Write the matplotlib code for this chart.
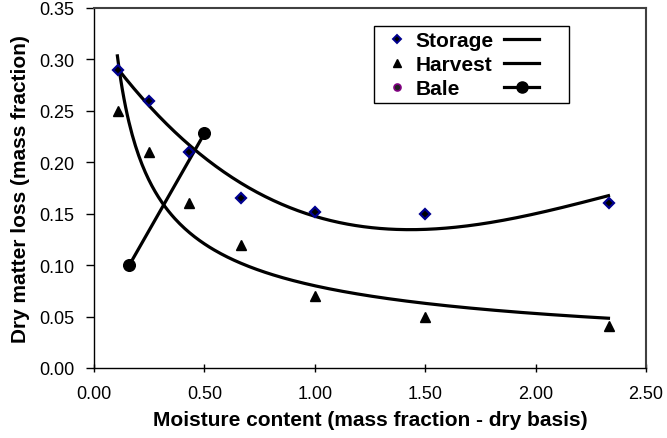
import numpy as np
import matplotlib
matplotlib.use("Agg")
import matplotlib.pyplot as plt
from matplotlib.lines import Line2D
from matplotlib.ticker import FormatStrFormatter

plt.rcParams['font.family'] = ['Liberation Sans', 'DejaVu Sans']

# moisture content (dry basis) and dry matter loss
moisture = [0.111, 0.25, 0.429, 0.667, 1.0, 1.5, 2.333]
storage_loss = [0.290, 0.260, 0.210, 0.165, 0.152, 0.150, 0.160]
harvest_loss = [0.250, 0.210, 0.160, 0.120, 0.070, 0.050, 0.041]

bale_moisture = [0.16, 0.50]
bale_loss = [0.100, 0.228]

# trend lines
storage_trend_x = [0.106, 0.249, 0.453, 0.616, 0.725, 1.0, 1.39, 1.5, 2.33]
storage_trend_y = [0.291, 0.257, 0.2097, 0.1876, 0.174, 0.1465, 0.1345, 0.135, 0.1675]
harvest_trend_x = [0.106, 0.196, 0.309, 0.453, 0.616, 1.0, 1.5, 2.33]
harvest_trend_y = [0.301, 0.213, 0.158, 0.1286, 0.1076, 0.0807, 0.0632, 0.0476]

fig = plt.figure(figsize=(6.67, 4.39), dpi=100)
ax = fig.add_axes([0.1409, 0.1595, 0.8276, 0.82])

# storage: cubic trend, harvest: power trend
c_st = np.polyfit(storage_trend_x, storage_trend_y, 3)
xs = np.linspace(min(storage_trend_x), max(storage_trend_x), 300)
ax.plot(xs, np.polyval(c_st, xs), color='black', lw=2.3, zorder=2)

b, ln_a = np.polyfit(np.log(harvest_trend_x), np.log(harvest_trend_y), 1)
xh = np.linspace(min(harvest_trend_x), max(harvest_trend_x), 300)
ax.plot(xh, np.exp(ln_a) * xh ** b, color='black', lw=2.3, zorder=2)

ax.plot(bale_moisture, bale_loss, color='black', lw=2.3, marker='o',
        markersize=8.4, zorder=3)

ax.plot(moisture, storage_loss, linestyle='none', marker='D', markersize=5,
        mfc='black', mec='#000090', mew=1.6, zorder=4)
ax.plot(moisture, harvest_loss, linestyle='none', marker='^', markersize=6.5,
        color='black', zorder=4)

ax.set_xlim(0, 2.5)
ax.set_ylim(0, 0.35)
ax.set_xticks(np.arange(0, 2.51, 0.5))
ax.set_yticks(np.arange(0, 0.351, 0.05))
ax.xaxis.set_major_formatter(FormatStrFormatter('%.2f'))
ax.yaxis.set_major_formatter(FormatStrFormatter('%.2f'))
ax.tick_params(axis='x', direction='inout', length=6, width=1, labelsize=13, pad=9)
ax.tick_params(axis='y', direction='out', length=6, width=1, labelsize=13, pad=8)

for side in ['top', 'right']:
    ax.spines[side].set_color('#404040')
    ax.spines[side].set_linewidth(1.5)
for side in ['left', 'bottom']:
    ax.spines[side].set_linewidth(1.0)

ax.set_xlabel('Moisture content (mass fraction - dry basis)', fontsize=15,
              fontweight='bold', labelpad=6)
ax.set_ylabel('Dry matter loss (mass fraction)', fontsize=15,
              fontweight='bold', labelpad=7)

h_st = Line2D([], [], linestyle='none', marker='D', markersize=4.5,
              mfc='black', mec='#000090', mew=1.4)
h_hv = Line2D([], [], linestyle='none', marker='^', markersize=6, color='black')
h_bl = Line2D([], [], linestyle='none', marker='o', markersize=5,
              mfc='#222222', mec='#800080', mew=1.2)
l_st = Line2D([], [], color='black', lw=2.3)
l_hv = Line2D([], [], color='black', lw=2.3)
l_bl = Line2D([], [], color='black', lw=2.3, marker='o', markersize=8)

leg = ax.legend([h_st, h_hv, h_bl, l_st, l_hv, l_bl],
                ['Storage', 'Harvest', 'Bale', '    ', '    ', '    '],
                ncol=2, loc='upper left', bbox_to_anchor=(0.507, 0.95),
                borderaxespad=0, prop={'weight': 'bold', 'size': 15},
                handlelength=1.7, handletextpad=0.05, columnspacing=0.5,
                labelspacing=0.24, borderpad=0.25, fancybox=False,
                framealpha=1, edgecolor='black')
leg.get_frame().set_linewidth(1.0)

fig.savefig('out.png', dpi=100)
